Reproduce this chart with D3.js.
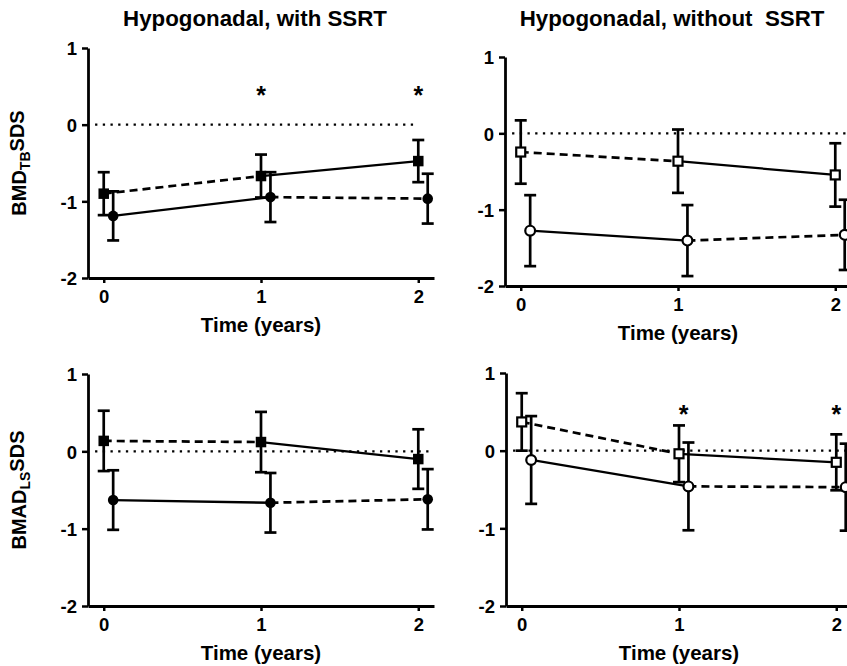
<!DOCTYPE html>
<html>
<head>
<meta charset="utf-8">
<script src="https://cdn.jsdelivr.net/npm/d3@7"></script>
<style>
  html, body { margin: 0; padding: 0; background: #fff; }
  svg { display: block; }
  text { font-family: "Liberation Sans", Arial, sans-serif; font-weight: bold; fill: #000; }
</style>
</head>
<body>
<svg id="chart" width="847" height="666"></svg>
<script>
// Follow-up time points (years)
const times = [0, 1, 2];
const yTicks = [-2, -1, 0, 1];
const xTicks = [0, 1, 2];

// Panel titles
const colTitles = ["Hypogonadal, with SSRT", "Hypogonadal, without  SSRT"];

// Total-body BMD SDS, mean and SD
const tbWithSqMean = [-0.90, -0.67, -0.475];
const tbWithSqSd = [0.28, 0.28, 0.275];
const tbWithCiMean = [-1.19, -0.945, -0.965];
const tbWithCiSd = [0.32, 0.325, 0.325];

const tbWithoutSqMean = [-0.245, -0.365, -0.545];
const tbWithoutSqSd = [0.415, 0.415, 0.415];
const tbWithoutCiMean = [-1.275, -1.405, -1.33];
const tbWithoutCiSd = [0.465, 0.465, 0.46];

// Lumbar-spine BMAD SDS, mean and SD
const lsWithSqMean = [0.135, 0.12, -0.10];
const lsWithSqSd = [0.39, 0.39, 0.385];
const lsWithCiMean = [-0.63, -0.665, -0.62];
const lsWithCiSd = [0.385, 0.385, 0.39];

const lsWithoutSqMean = [0.37, -0.04, -0.15];
const lsWithoutSqSd = [0.37, 0.365, 0.36];
const lsWithoutCiMean = [-0.12, -0.46, -0.47];
const lsWithoutCiSd = [0.565, 0.565, 0.56];

// Significance markers: time and height (SDS)
const tbWithStars = [[1, 0.45], [2, 0.45]];
const tbWithoutStars = [];
const lsWithStars = [];
const lsWithoutStars = [[1.03, 0.54], [2, 0.54]];

// Right end of the dotted reference line at 0 (years)
const zeroLineEnd = [2.0, 2.12, 2.08, 2.12];

const panels = [
  { sq: [tbWithSqMean, tbWithSqSd], ci: [tbWithCiMean, tbWithCiSd], open: false, stars: tbWithStars,
    left: 88, top: 48, bottom: 278, title: colTitles[0], ylab: ["BMD", "TB", "SDS"], zEnd: zeroLineEnd[0] },
  { sq: [tbWithoutSqMean, tbWithoutSqSd], ci: [tbWithoutCiMean, tbWithoutCiSd], open: true, stars: tbWithoutStars,
    left: 505, top: 57, bottom: 286, title: colTitles[1], ylab: null, zEnd: zeroLineEnd[1] },
  { sq: [lsWithSqMean, lsWithSqSd], ci: [lsWithCiMean, lsWithCiSd], open: false, stars: lsWithStars,
    left: 88, top: 374, bottom: 606, title: null, ylab: ["BMAD", "LS", "SDS"], zEnd: zeroLineEnd[2] },
  { sq: [lsWithoutSqMean, lsWithoutSqSd], ci: [lsWithoutCiMean, lsWithoutCiSd], open: true, stars: lsWithoutStars,
    left: 506, top: 373, bottom: 606, title: null, ylab: null, zEnd: zeroLineEnd[3] }
];

const svg = d3.select("#chart");
const plotWidth = 346;
const circleShift = 0.06;   // circles drawn slightly right of the squares
const capHalf = 6;

panels.forEach(p => {
  const g = svg.append("g");
  const x = d3.scaleLinear().domain([-0.1, 2.1]).range([p.left, p.left + plotWidth]);
  const y = d3.scaleLinear().domain([-2, 1]).range([p.bottom, p.top]);

  // dotted zero reference
  g.append("line")
    .attr("x1", x(-0.055)).attr("x2", x(p.zEnd))
    .attr("y1", y(0)).attr("y2", y(0))
    .attr("stroke", "#000").attr("stroke-width", 2.3)
    .attr("stroke-dasharray", "2.3,5.4");

  // axes
  const yAxis = g.append("g").attr("transform", `translate(${p.left},0)`)
    .call(d3.axisLeft(y).tickValues(yTicks).tickSizeOuter(0).tickSizeInner(6).tickPadding(5)
      .tickFormat(d => String(d)));
  const xAxis = g.append("g").attr("transform", `translate(0,${p.bottom})`)
    .call(d3.axisBottom(x).tickValues(xTicks).tickSizeOuter(0).tickSizeInner(5).tickPadding(6)
      .tickFormat(d => String(d)));
  [yAxis, xAxis].forEach(a => {
    a.select(".domain").attr("stroke", "#000").attr("stroke-width", 2.8);
    a.selectAll(".tick line").attr("stroke", "#000").attr("stroke-width", 2.5);
    a.selectAll(".tick text").style("font-size", "18.5px").style("font-family", "Liberation Sans, Arial, sans-serif")
      .style("font-weight", "bold").attr("fill", "#000");
  });
  yAxis.selectAll(".tick text").attr("dy", "0.36em");
  xAxis.selectAll(".tick text").attr("dy", "0.74em");

  // x axis title
  g.append("text")
    .attr("x", x(1)).attr("y", p.bottom + 54)
    .attr("text-anchor", "middle").style("font-size", "20.5px")
    .text("Time (years)");

  // column title
  if (p.title) {
    g.append("text")
      .attr("x", x(1) - 6).attr("y", 26)
      .attr("text-anchor", "middle").style("font-size", "22.3px")
      .style("white-space", "pre").attr("xml:space", "preserve")
      .text(p.title);
  }

  // y axis title with subscript
  if (p.ylab) {
    const cy = (p.top + p.bottom) / 2;
    const t = g.append("text")
      .attr("transform", `translate(26,${cy}) rotate(-90)`)
      .attr("text-anchor", "middle").style("font-size", "20px");
    t.append("tspan").text(p.ylab[0]);
    t.append("tspan").attr("dy", "0.3em").style("font-size", "14px").text(p.ylab[1]);
    t.append("tspan").attr("dy", "-0.3em").text(p.ylab[2]);
  }

  const series = [
    { mean: p.sq[0], sd: p.sq[1], shift: 0, shape: "square", dash: ["8,5", null] },
    { mean: p.ci[0], sd: p.ci[1], shift: circleShift, shape: "circle", dash: [null, "8,5"] }
  ];

  series.forEach(s => {
    const pts = times.map((t, i) => ({ t: t + s.shift, m: s.mean[i], sd: s.sd[i] }));
    // connecting segments
    for (let i = 0; i < pts.length - 1; i++) {
      g.append("line")
        .attr("x1", x(pts[i].t)).attr("y1", y(pts[i].m))
        .attr("x2", x(pts[i + 1].t)).attr("y2", y(pts[i + 1].m))
        .attr("stroke", "#000").attr("stroke-width", s.dash[i] ? 2.7 : 2.3)
        .attr("stroke-dasharray", s.dash[i]);
    }
    // error bars
    const eb = g.append("g").attr("stroke", "#000").attr("stroke-width", 2.7);
    pts.forEach(d => {
      const cx = x(d.t);
      eb.append("line").attr("x1", cx).attr("x2", cx).attr("y1", y(d.m + d.sd)).attr("y2", y(d.m - d.sd));
      eb.append("line").attr("x1", cx - capHalf).attr("x2", cx + capHalf).attr("y1", y(d.m + d.sd)).attr("y2", y(d.m + d.sd));
      eb.append("line").attr("x1", cx - capHalf).attr("x2", cx + capHalf).attr("y1", y(d.m - d.sd)).attr("y2", y(d.m - d.sd));
    });
    // markers
    const fill = p.open ? "#fff" : "#000";
    pts.forEach(d => {
      const cx = x(d.t), cy = y(d.m);
      if (s.shape === "square") {
        const sz = p.open ? 9 : 10.5;
        g.append("rect").attr("x", cx - sz / 2).attr("y", cy - sz / 2)
          .attr("width", sz).attr("height", sz)
          .attr("fill", fill).attr("stroke", "#000").attr("stroke-width", p.open ? 2.2 : 0);
      } else {
        g.append("circle").attr("cx", cx).attr("cy", cy).attr("r", p.open ? 4.9 : 5.3)
          .attr("fill", fill).attr("stroke", "#000").attr("stroke-width", p.open ? 2.2 : 0);
      }
    });
  });

  // significance asterisks
  p.stars.forEach(([t, v]) => {
    g.append("text").attr("x", x(t)).attr("y", y(v) + 14)
      .attr("text-anchor", "middle").style("font-size", "25px").text("*");
  });
});
</script>
</body>
</html>
